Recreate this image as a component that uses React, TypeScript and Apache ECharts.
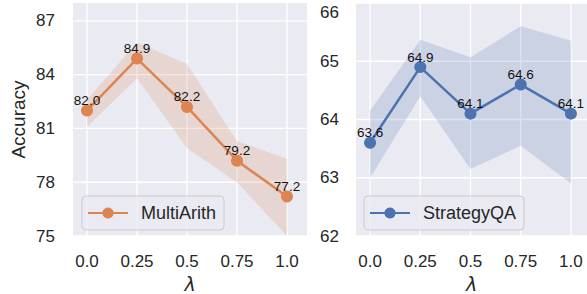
import React, { useEffect, useRef } from "react";
import * as echarts from "echarts";

const xVals = [0, 0.25, 0.5, 0.75, 1.0];
const xTickLabels = ["0.0", "0.25", "0.5", "0.75", "1.0"];

const multiArith = [82.0, 84.9, 82.2, 79.2, 77.2];
const multiArithLower = [81.1, 83.8, 79.9, 78.0, 75.0];
const multiArithUpper = [82.6, 85.8, 84.6, 80.3, 79.3];
const leftYTicks = [75, 78, 81, 84, 87];

const strategyQA = [63.6, 64.9, 64.1, 64.6, 64.1];
const strategyLower = [63.0, 64.4, 63.15, 63.55, 62.9];
const strategyUpper = [64.15, 65.37, 65.07, 65.6, 65.35];
const rightYTicks = [62, 63, 64, 65, 66];

const ORANGE = "#dd8452";
const BLUE = "#4c72b0";
const TXT = "#262626";
const FONT = "Liberation Sans, Arial, sans-serif";

const xLabel = (v: number) => {
  const i = xVals.findIndex((x) => Math.abs(x - v) < 1e-6);
  return i >= 0 ? xTickLabels[i] : "";
};

function makeSeries(
  idx: number,
  name: string,
  color: string,
  band: string,
  vals: number[],
  lower: number[],
  upper: number[],
  yTicks: number[]
) {
  const pts = xVals.map((x, i) => [x, vals[i]]);
  return [
    {
      type: "custom",
      name: name + "_bg",
      xAxisIndex: idx,
      yAxisIndex: idx,
      data: [pts[0]],
      encode: { x: 0, y: 1 },
      z: 1,
      silent: true,
      clip: true,
      renderItem: (params: any, api: any) => {
        if (params.dataIndex !== 0) return null;
        const cs = params.coordSys;
        const children: any[] = [];
        children.push({
          type: "rect",
          shape: { x: cs.x, y: cs.y, width: cs.width, height: cs.height },
          style: { fill: "#eaeaf2" },
        });
        xVals.forEach((v) => {
          const p = api.coord([v, yTicks[0]]);
          children.push({
            type: "line",
            shape: { x1: p[0], y1: cs.y, x2: p[0], y2: cs.y + cs.height },
            style: { stroke: "#ffffff", lineWidth: 1.3 },
          });
        });
        yTicks.forEach((v) => {
          const p = api.coord([xVals[0], v]);
          children.push({
            type: "line",
            shape: { x1: cs.x, y1: p[1], x2: cs.x + cs.width, y2: p[1] },
            style: { stroke: "#ffffff", lineWidth: 1.3 },
          });
        });
        const poly: number[][] = [];
        xVals.forEach((x, i) => poly.push(api.coord([x, upper[i]])));
        for (let i = xVals.length - 1; i >= 0; i--) poly.push(api.coord([xVals[i], lower[i]]));
        children.push({
          type: "polygon",
          shape: { points: poly },
          style: { fill: band },
        });
        return {
          type: "group",
          clipPath: {
            type: "rect",
            shape: { x: cs.x, y: cs.y, width: cs.width, height: cs.height },
          },
          children,
        };
      },
    },
    {
      type: "line",
      name,
      xAxisIndex: idx,
      yAxisIndex: idx,
      data: pts,
      z: 5,
      symbol: "circle",
      symbolSize: 12,
      itemStyle: { color },
      lineStyle: { color, width: 2.5 },
      label: {
        show: true,
        position: "inside",
        offset: [0, -10],
        formatter: (p: any) => p.data[1].toFixed(1),
        fontSize: 13.5,
        color: "#111",
        fontFamily: FONT,
      },
    },
  ];
}

export default function App() {
  const ref = useRef<HTMLDivElement>(null);
  useEffect(() => {
    if (!ref.current) return;
    const chart = echarts.init(ref.current, null, { renderer: "svg" });
    const xAxisCommon = (gridIndex: number, max: number) => ({
      gridIndex,
      type: "value",
      min: -0.07,
      max,
      splitLine: { show: false },
      axisLine: { show: false },
      axisTick: { show: false },
      axisLabel: {
        customValues: xVals,
        formatter: xLabel,
        fontSize: 17,
        color: TXT,
        margin: 17,
        fontFamily: FONT,
      },
      name: "λ",
      nameLocation: "middle",
      nameGap: 37,
      nameTextStyle: {
        fontSize: 19,
        lineHeight: 19,
        fontStyle: "italic",
        fontFamily: "DejaVu Sans",
        color: TXT,
      },
    });
    const legendCommon = {
      orient: "horizontal",
      top: 196,
      padding: [8, 8, 8, 5],
      itemWidth: 40,
      itemHeight: 14,
      backgroundColor: "rgba(234,234,242,0.8)",
      borderColor: "#cccccc",
      borderWidth: 1,
      borderRadius: 4,
      textStyle: {
        fontSize: 18,
        color: TXT,
        fontFamily: FONT,
        padding: [0, 0, 0, 8],
      },
    };
    const option: any = {
      animation: false,
      backgroundColor: "#ffffff",
      grid: [
        { left: 73, top: 3, width: 234, height: 233, show: false, outerBoundsMode: "none", containLabel: false },
        { left: 356, top: 3, width: 231, height: 233, show: false, outerBoundsMode: "none", containLabel: false },
      ],
      legend: [
        { ...legendCommon, left: 82, data: ["MultiArith"] },
        { ...legendCommon, left: 364, data: ["StrategyQA"] },
      ],
      xAxis: [xAxisCommon(0, 1.1), xAxisCommon(1, 1.08)],
      yAxis: [
        {
          gridIndex: 0,
          type: "value",
          min: 75,
          max: 88,
          splitLine: { show: false },
          axisLine: { show: false },
          axisTick: { show: false },
          axisLabel: {
            customValues: leftYTicks,
            fontSize: 17,
            color: TXT,
            margin: 18,
            fontFamily: FONT,
          },
          name: "Accuracy",
          nameLocation: "middle",
          nameGap: 45,
          nameTextStyle: { fontSize: 19, color: TXT, fontFamily: FONT },
        },
        {
          gridIndex: 1,
          type: "value",
          min: 62,
          max: 66,
          splitLine: { show: false },
          axisLine: { show: false },
          axisTick: { show: false },
          axisLabel: {
            customValues: rightYTicks,
            fontSize: 17,
            color: TXT,
            margin: 17,
            fontFamily: FONT,
            formatter: (v: number) => (Math.abs(v - 66) < 1e-6 ? "{t|66}" : String(v)),
            rich: {
              t: { fontSize: 17, color: TXT, fontFamily: FONT, padding: [18, 0, 0, 0] },
            },
          },
        },
      ],
      series: [
        ...makeSeries(0, "MultiArith", ORANGE, "rgba(221,132,82,0.2)", multiArith, multiArithLower, multiArithUpper, leftYTicks),
        ...makeSeries(1, "StrategyQA", BLUE, "rgba(76,114,176,0.2)", strategyQA, strategyLower, strategyUpper, rightYTicks),
      ],
    };
    chart.setOption(option);
    return () => chart.dispose();
  }, []);
  return <div ref={ref} style={{ width: 587, height: 294, position: "absolute", left: 0, top: 0 }} />;
}
